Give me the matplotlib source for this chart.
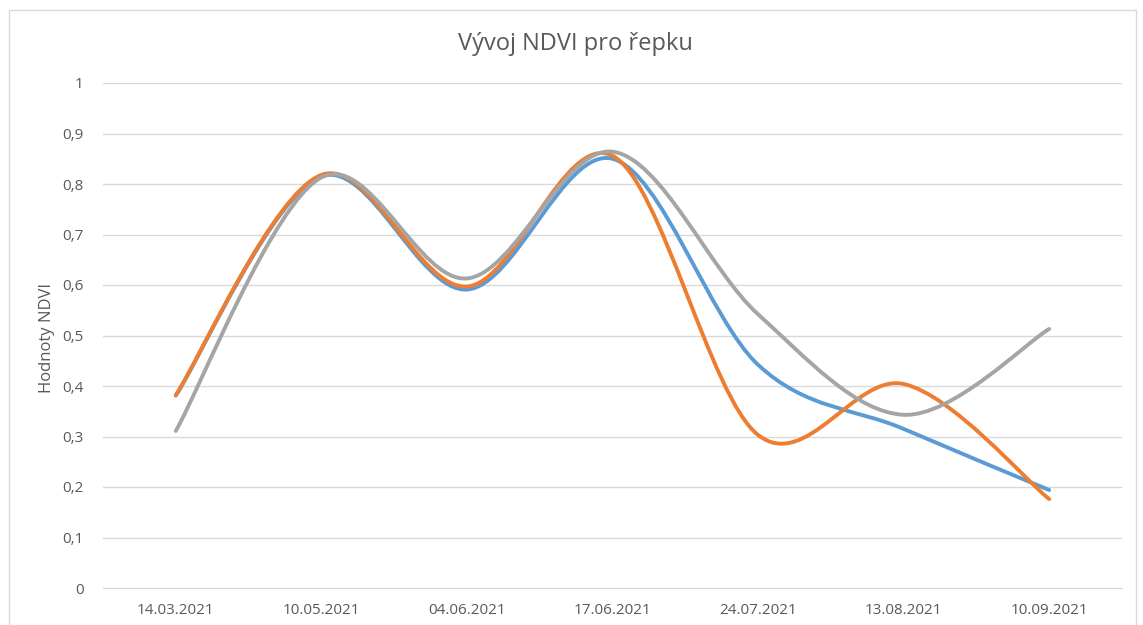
import numpy as np
import matplotlib
matplotlib.use("Agg")
from matplotlib import pyplot as plt
from matplotlib.path import Path
from matplotlib.patches import PathPatch, Rectangle

dates = ['14.03.2021', '10.05.2021', '04.06.2021', '17.06.2021',
         '24.07.2021', '13.08.2021', '10.09.2021']
blue_vals = [0.381, 0.815, 0.591, 0.850, 0.442, 0.315, 0.194]
orange_vals = [0.382, 0.818, 0.597, 0.856, 0.303, 0.404, 0.176]
gray_vals = [0.311, 0.813, 0.613, 0.864, 0.542, 0.343, 0.513]
y_ticks = [0, 0.1, 0.2, 0.3, 0.4, 0.5, 0.6, 0.7, 0.8, 0.9, 1]

plt.rcParams['font.family'] = ['Open Sans', 'DejaVu Sans']
text_col = '#595959'


def smooth_path(xs, ys):
    # Excel-like smoothed line: cubic bezier, catmull-rom control points
    pts = np.column_stack([xs, ys]).astype(float)
    n = len(pts)
    verts = [pts[0]]
    codes = [Path.MOVETO]
    for i in range(n - 1):
        p0 = pts[i - 1] if i > 0 else pts[i]
        p1 = pts[i]
        p2 = pts[i + 1]
        p3 = pts[i + 2] if i + 2 < n else pts[i + 1]
        c1 = p1 + (p2 - p0) / 6.0
        c2 = p2 - (p3 - p1) / 6.0
        verts += [c1, c2, p2]
        codes += [Path.CURVE4] * 3
    return Path(verts, codes)


fig = plt.figure(figsize=(11.43, 6.25), dpi=100)
fig.patches.append(Rectangle((9 / 1143, -0.05), 1127 / 1143, 1.05 - 10 / 625,
                             transform=fig.transFigure, fill=False,
                             edgecolor='#d9d9d9', lw=1.0))
ax = fig.add_axes([103 / 1143, 1 - 588 / 625, 1019 / 1143, 505 / 625])

x = np.arange(len(dates))
for vals, col in [(blue_vals, '#5B9BD5'), (orange_vals, '#ED7D31'),
                  (gray_vals, '#A5A5A5')]:
    patch = PathPatch(smooth_path(x, vals), facecolor='none', edgecolor=col,
                      lw=2.8, capstyle='round', joinstyle='round', zorder=3)
    ax.add_patch(patch)

ax.set_xlim(-0.5, len(dates) - 0.5)
ax.set_ylim(0, 1)
ax.set_yticks(y_ticks)
ax.set_yticklabels([('%g' % v).replace('.', ',') for v in y_ticks])
ax.set_xticks(x)
ax.set_xticklabels(dates)
ax.tick_params(length=0, labelsize=11, colors=text_col)
ax.tick_params(axis='y', pad=14)
ax.tick_params(axis='x', pad=11)
ax.grid(axis='y', color='#d9d9d9', lw=1.0)
ax.set_axisbelow(True)
for s in ['left', 'right', 'top']:
    ax.spines[s].set_visible(False)
ax.spines['bottom'].set_color('#d9d9d9')
fig.text(47 / 1143, 1 - 338 / 625, 'Hodnoty NDVI', fontsize=12,
         color=text_col, rotation=90, ha='center', va='center')
fig.text(575 / 1143, 1 - 44 / 625, 'Vývoj NDVI pro řepku', fontsize=17,
         color=text_col, ha='center', va='center')

fig.savefig('out.png', dpi=100)
